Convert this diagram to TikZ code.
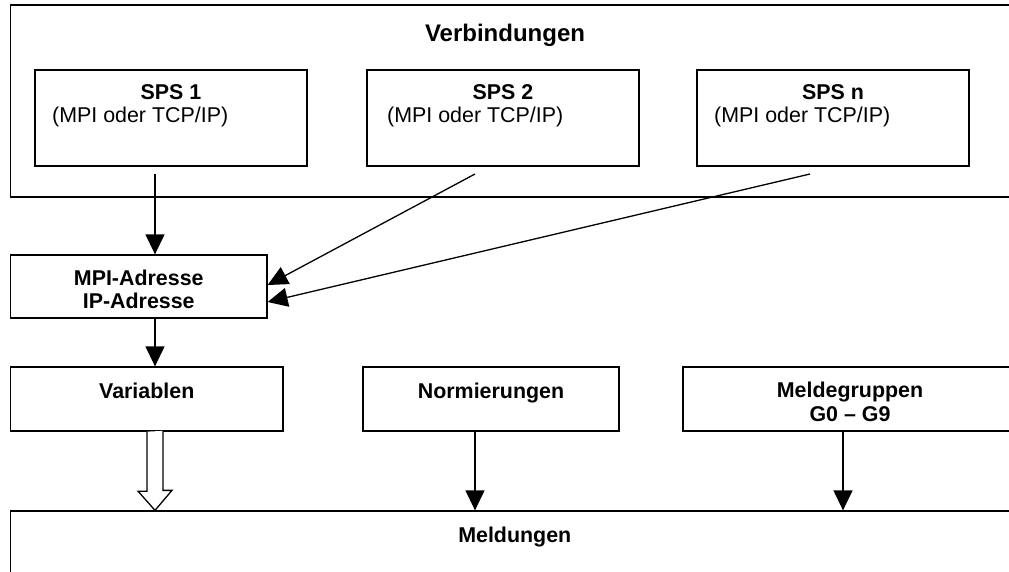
\documentclass[tikz,border=0pt]{standalone}
\usepackage{fontspec}
\setmainfont{Liberation Sans}
\usetikzlibrary{arrows.meta,calc}
\begin{document}
\begin{tikzpicture}[x=1pt,y=-1pt,
  box/.style={draw, line width=1.3pt, inner sep=0pt, rectangle},
  lbl/.style={inner sep=0pt, font=\fontsize{21.4}{24}\selectfont},
  blbl/.style={inner sep=0pt, font=\fontsize{21.4}{24}\selectfont\bfseries},
  arr/.style={-{Triangle[width=19pt,length=20pt]}, line width=1.3pt},
  hollow/.style={draw, line width=1.3pt, fill=white, line join=miter},
]
\useasboundingbox (0,0) rectangle (1009,572);
\clip (0,0) rectangle (1009,572);
\fill[white] (0,0) rectangle (1009,572);

% boxes
\node[box, minimum width=1008.5pt, minimum height=192pt] (verb) at (514.75,101) {};
\node[box, minimum width=272pt, minimum height=96pt] (s1) at (171,118) {};
\node[box, minimum width=272pt, minimum height=96pt] (s2) at (503,118) {};
\node[box, minimum width=272pt, minimum height=96pt] (sn) at (833,118) {};
\node[box, minimum width=256.5pt, minimum height=63pt] (mpi) at (138.75,286.5) {};
\node[box, minimum width=272.5pt, minimum height=64pt] (var) at (146.75,399) {};
\node[box, minimum width=256pt, minimum height=64pt] (norm) at (491,399) {};
\node[box, minimum width=334pt, minimum height=64pt] (meld) at (850,399) {};
\node[box, minimum width=1008.5pt, minimum height=89pt] (msg) at (514.75,555.5) {};

% texts
\node[inner sep=0pt, font=\fontsize{24}{28}\selectfont\bfseries, anchor=base] (tverb) at (505,42) {Verbindungen};
\node[blbl, anchor=base] (t1a) at (s1.center |- 0,100) {SPS 1};
\node[lbl, anchor=base west] (t1b) at (52,123) {(MPI oder TCP/IP)};
\node[blbl, anchor=base] (t2a) at (s2.center |- 0,100) {SPS 2};
\node[lbl, anchor=base west] (t2b) at (387,123) {(MPI oder TCP/IP)};
\node[blbl, anchor=base] (t3a) at (sn.center |- 0,100) {SPS n};
\node[lbl, anchor=base west] (t3b) at (714,123) {(MPI oder TCP/IP)};
\node[blbl, anchor=base] (tm1) at (mpi.center |- 0,285) {MPI-Adresse};
\node[blbl, anchor=base] (tm2) at (mpi.center |- 0,308) {IP-Adresse};
\node[blbl, anchor=base] (tv) at (var.center |- 0,398) {Variablen};
\node[blbl, anchor=base] (tn) at (norm.center |- 0,398) {Normierungen};
\node[blbl, anchor=base] (tg1) at (meld.center |- 0,397) {Meldegruppen};
\node[blbl, anchor=base] (tg2) at (meld.center |- 0,421) {G0 – G9};
\node[blbl, anchor=base] (tmsg) at (514.75,542) {Meldungen};

% connectors
\coordinate (a1) at (155,174);
\coordinate (a2) at (475,174);
\coordinate (a3) at (810,174);
\coordinate (xn) at (475,0);
\coordinate (xg) at (843,0);
\draw[arr] (a1) -- (a1 |- mpi.north);
\draw[arr] (a2) -- ($(mpi.east)+(0,-1.5)$);
\draw[arr] (a3) -- ($(mpi.east)+(0,15.5)$);
\draw[arr] (mpi.south -| a1) -- (var.north -| a1);
\draw[arr] (norm.south -| xn) -- (msg.north -| xn);
\draw[arr] (meld.south -| xg) -- (msg.north -| xg);
\draw[hollow] ($(var.south -| a1)+(-8,0)$) -- ++(0,59.5) -- ++(-9,0)
  -- (msg.north -| a1) -- ++(17,-20) -- ++(-9,0) -- ++(0,-59.5);
\end{tikzpicture}
\end{document}
